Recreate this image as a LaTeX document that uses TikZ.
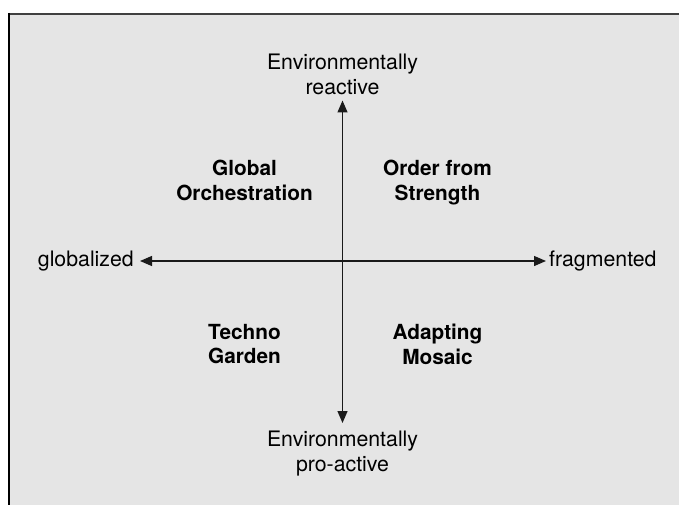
\documentclass[tikz,border=0pt]{standalone}
\usepackage{fontspec}
\setmainfont{TeX Gyre Heros}
\usetikzlibrary{arrows.meta}
\definecolor{bgfill}{HTML}{E5E5E5}
\definecolor{axiscol}{HTML}{1A1A1A}
\tikzset{
  axislabel/.style={font=\fontsize{21.3}{24.5}\selectfont, align=center, inner sep=0pt, text=black},
  quadlabel/.style={font=\fontsize{20.8}{24.5}\selectfont\bfseries, align=center, inner sep=0pt, text=black},
  axisarrow/.style={draw=axiscol, line width=1.3pt, {Triangle[length=12pt,width=10pt]}-{Triangle[length=12pt,width=10pt]}}
}
\begin{document}
\begin{tikzpicture}[x=1pt,y=-1pt]
\useasboundingbox (0,0) rectangle (679,505);
\fill[white] (0,0) rectangle (679,505);
\fill[bgfill] (8,13) rectangle (679,505);
\draw[line width=2pt, draw=black!75] (8,14) -- (679,14);
\draw[line width=2pt, draw=black] (9,13) -- (9,505);
% axis end points
\coordinate (vtop) at (342.5,100.5);
\coordinate (vbot) at (342.5,423);
\coordinate (hleft) at (140,261);
\coordinate (hright) at (546,261);
\draw[axisarrow] (vtop) -- (vbot);
\draw[axisarrow] (hleft) -- (hright);
% axis labels
\node[axislabel, anchor=north] (react) at (342.5,54) {Environmentally\\reactive};
\node[axislabel, anchor=north] (proact) at (342.5,431) {Environmentally\\pro-active};
\node[axislabel, anchor=mid east] (glob) at (134,263.5) {globalized};
\node[axislabel, anchor=mid west] (frag) at (549,263.5) {fragmented};
% quadrant labels
\node[quadlabel, anchor=north] (go) at (244.5,160) {Global\\Orchestration};
\node[quadlabel, anchor=north] (ofs) at (437.5,160) {Order from\\Strength};
\node[quadlabel, anchor=north] (tg) at (244.5,324) {Techno\\Garden};
\node[quadlabel, anchor=north] (am) at (437.5,324) {Adapting\\Mosaic};
\end{tikzpicture}
\end{document}
